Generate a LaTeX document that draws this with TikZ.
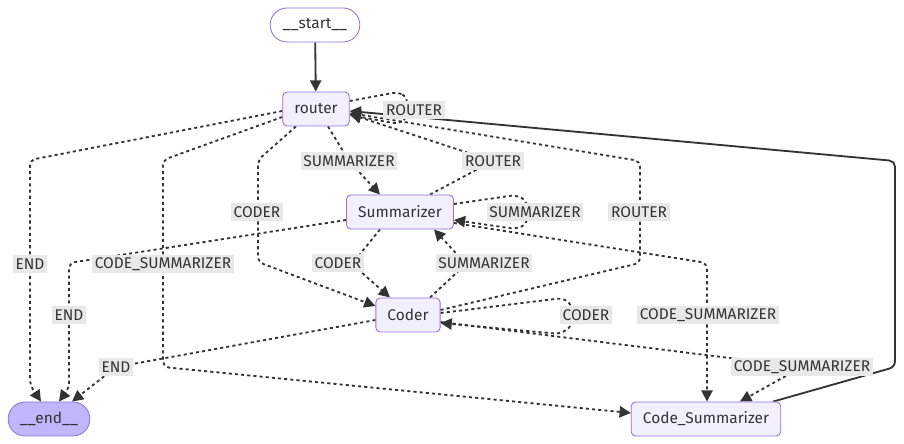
\documentclass[tikz,border=0pt]{standalone}
\usepackage{fontspec}
\setmainfont{Fira Sans}
\usetikzlibrary{arrows.meta,calc,backgrounds}

\definecolor{nodefill}{HTML}{F2F0FF}
\definecolor{nodeline}{HTML}{9370DB}
\definecolor{endfill}{HTML}{BFB6FC}
\definecolor{labelfill}{HTML}{E8E8E8}
\definecolor{ink}{HTML}{333333}

\begin{document}
\begin{tikzpicture}[
  x=0.025cm, y=-0.025cm,
  state/.style={draw=nodeline, fill=nodefill, rounded corners=3pt, line width=0.6pt,
                minimum height=0.85cm, inner xsep=0.29cm, text=ink,
                font=\fontsize{11}{13}\selectfont},
  term/.style={state, rounded corners=0.42cm},
  lbl/.style={fill=labelfill, inner xsep=2pt, inner ysep=0pt, minimum height=0.43cm,
              text=ink, font=\fontsize{11}{13}\selectfont},
  flow/.style={-{Triangle[length=8pt,width=8pt]}, line width=1.3pt, ink, rounded corners=4pt},
  cond/.style={flow, dash pattern=on 2.2pt off 2.2pt}
]
  \useasboundingbox (0,0) rectangle (904,444);
  % Graph nodes
  \node[term, fill=white, minimum width=2.24cm] (start) at (315,25) {\_\_start\_\_};
  \node[state] (router) at (316,109) {router};
  \node[state] (summ) at (400,212) {Summarizer};
  \node[state] (coder) at (408,315) {Coder};
  \node[term, fill=endfill, minimum width=2.04cm] (stop) at (49,419) {\_\_end\_\_};
  \node[state] (codesum) at (706,419) {Code\_Summarizer};
  % Edge labels
  \node[lbl] (lRR) at (414,110) {ROUTER};
  \node[lbl] (lRS) at (349,161) {SUMMARIZER};
  \node[lbl] (lRC) at (257,212) {CODER};
  \node[lbl] (lRE) at (30,264) {END};
  \node[lbl] (lRCS) at (163,264) {CODE\_SUMMARIZER};
  \node[lbl] (lSR) at (493,161) {ROUTER};
  \node[lbl] (lSS) at (535,212) {SUMMARIZER};
  \node[lbl] (lSC) at (338,263) {CODER};
  \node[lbl] (lSE) at (69,315) {END};
  \node[lbl] (lSCS) at (708,315) {CODE\_SUMMARIZER};
  \node[lbl] (lCR) at (639,212) {ROUTER};
  \node[lbl] (lCS) at (484,263) {SUMMARIZER};
  \node[lbl] (lCC) at (586,315) {CODER};
  \node[lbl] (lCE) at (116,367) {END};
  \node[lbl] (lCCS) at (802,367) {CODE\_SUMMARIZER};
  % Flow
  \begin{pgfonlayer}{background}
    \draw[flow, rounded corners=0pt] (start) -- (router);
    % from router
    \draw[cond] ($(router.east)+(0,-8)$) -- (398,92) -- (407,97) -- (407,118) -- (398,124) -- ($(router.east)+(0,6)$);
    \draw[cond] ($(router.south)+(12,0)$) -- (lRS.center) -- ($(summ.north)+(-20,0)$);
    \draw[cond] ($(router.south)+(-20,0)$) -- (258,160) -- (258,262) -- ($(coder.west)+(0,-9)$);
    \draw[cond] ($(router.west)+(0,2)$) -- (30,160) -- (30,385) -- ($(stop.north)+(-8,0)$);
    \draw[cond] ($(router.west)+(0,8)$) -- (163,160) -- (163,367) -- ($(codesum.west)+(0,-6)$);
    % from Summarizer
    \draw[cond] ($(summ.north)+(30,0)$) -- (lSR.center) -- ($(router.east)+(0,5)$);
    \draw[cond] ($(summ.east)+(0,-8)$) -- (516,195) -- (527,201) -- (527,224) -- (516,229) -- ($(summ.east)+(0,8)$);
    \draw[cond] ($(summ.south)+(-20,0)$) -- (352,264) -- ($(coder.north)+(-18,0)$);
    \draw[cond] ($(summ.west)+(0,8)$) -- (69,263) -- (69,388) -- ($(stop.north)+(10,0)$);
    \draw[cond] ($(summ.east)+(0,11)$) -- (707,263) -- ($(codesum.north)+(1,0)$);
    % from Coder
    \draw[cond] ($(coder.east)+(0,-5)$) -- (640,263) -- (640,161) -- ($(router.east)+(0,4)$);
    \draw[cond] ($(coder.north)+(22,0)$) -- (466,264) -- ($(summ.south)+(34,0)$);
    \draw[cond] ($(coder.east)+(0,-2)$) -- (563,298) -- (572,305) -- (572,326) -- (560,334) -- ($(coder.east)+(0,8)$);
    \draw[cond] ($(coder.west)+(0,5)$) -- (lCE.center) -- ($(stop.north)+(23,0)$);
    \draw[cond] ($(coder.east)+(0,7)$) -- (lCCS.center) -- ($(codesum.north)+(34,0)$);
    % back to router
    \draw[flow] ($(codesum.north east)+(-8,0)$) -- (895,367) -- (895,161) -- ($(router.east)+(0,2)$);
  \end{pgfonlayer}
\end{tikzpicture}
\end{document}
